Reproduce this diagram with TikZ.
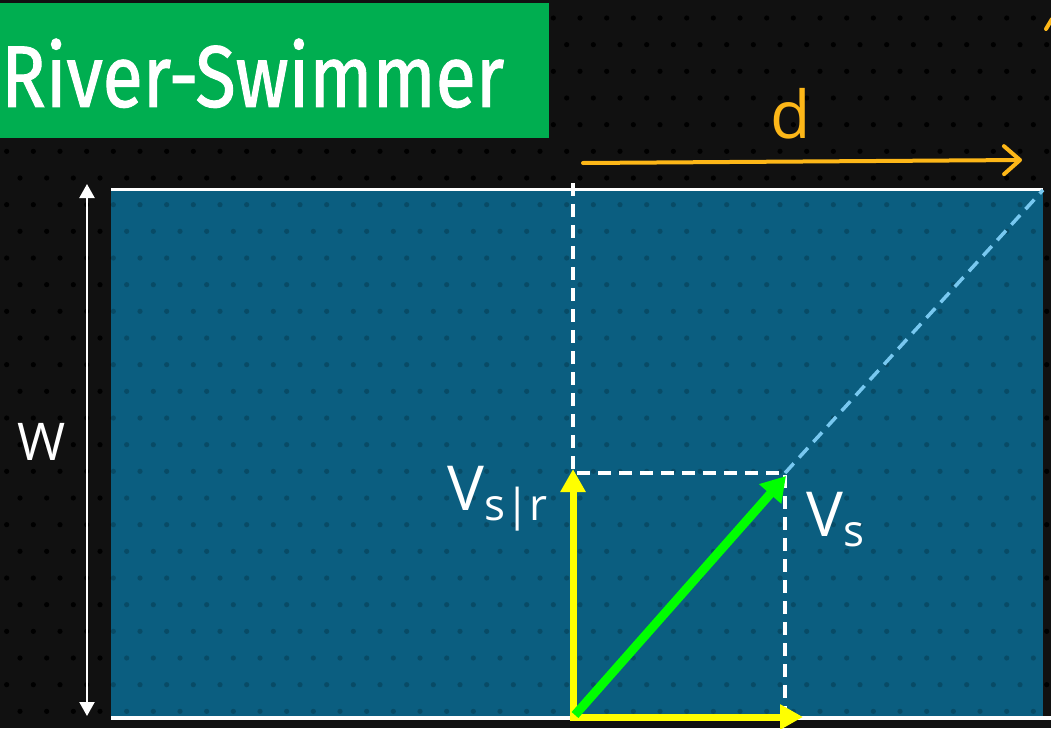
\documentclass[tikz,border=0pt]{standalone}
\usepackage{graphicx}
\usepackage{fontspec}
\setmainfont{Open Sans}
\newfontfamily\titlefont[FakeBold=1.3]{Fira Sans}
\usetikzlibrary{arrows.meta}
\definecolor{bgc}{RGB}{17,17,17}
\definecolor{rivercol}{RGB}{11,94,128}
\definecolor{titlegreen}{RGB}{0,174,80}
\definecolor{vecyellow}{RGB}{255,255,0}
\definecolor{vecgreen}{RGB}{0,255,0}
\definecolor{dorange}{RGB}{253,183,24}
\definecolor{lightblue}{RGB}{120,200,240}
\begin{document}
\begin{tikzpicture}[x=1pt,y=-1pt,
  hand/.style={text=white, inner sep=0},
  dashwhite/.style={draw=white, line width=3.5pt, dash pattern=on 13pt off 8pt},
  yvec/.style={draw=vecyellow, line width=7pt, -{Triangle[width=24pt,length=23pt]}},
  gvec/.style={draw=vecgreen, line width=9pt, -{Triangle[width=28pt,length=24pt]}},
  bank/.style={draw=white, line width=3.5pt},
]
\useasboundingbox (0,0) rectangle (1051,728);
\fill[bgc] (0,0) rectangle (1051,728);
% dot grid
\foreach \j in {0,...,26} {
  \pgfmathsetmacro\yy{18+26.667*\j}
  \pgfmathsetmacro\xo{mod(\j,2)==0 ? 20 : 6.667}
  \foreach \i in {0,...,39} {
    \fill[black] (\xo+26.667*\i,\yy) circle (2.6);
  }
}
% river
\node[fill=rivercol, inner sep=0, minimum width=932pt, minimum height=530pt, anchor=north west] (river) at (111,188) {};
\begin{scope}
\clip (111,188) rectangle (1043,718);
\foreach \j in {0,...,26} {
  \pgfmathsetmacro\yy{18+26.667*\j}
  \pgfmathsetmacro\xo{mod(\j,2)==0 ? 20 : 6.667}
  \foreach \i in {0,...,39} {
    \fill[black, opacity=0.2] (\xo+26.667*\i,\yy) circle (2.6);
  }
}
\end{scope}
% banks
\coordinate (tl) at (111,189.5);
\coordinate (tr) at (1043,189.5);
\coordinate (bl) at (111,718);
\coordinate (br) at (1051,718);
\draw[bank] (tl) -- (tr);
\draw[bank] (bl) -- (br);
% title
\node[fill=titlegreen, inner sep=0, minimum width=549pt, minimum height=135pt, anchor=north west] (titlebox) at (0,3) {};
\node[anchor=south west, inner sep=0, text=white] (title) at (1,108) {\resizebox{503pt}{68pt}{\titlefont River-Swimmer}};
% width arrow
\coordinate (wtop) at (87,184);
\coordinate (wbot) at (87,716);
\draw[white, line width=2.2pt, {Triangle[width=15pt,length=14pt]}-{Triangle[width=15pt,length=14pt]}] (wtop) -- (wbot);
\node[hand, font=\fontsize{52}{52}\selectfont] (W) at (42,442) {W};
% geometry points
\coordinate (O) at (573,717);
\coordinate (dtop) at (573,183);
\coordinate (Q) at (573,473);
\coordinate (P) at (785,473);
\coordinate (Pb) at (785,718);
\coordinate (C) at (1043,190);
% dashed guides
\draw[dashwhite] (dtop) -- (Q) -- (P) -- (Pb);
\draw[draw=lightblue, line width=3.5pt, dash pattern=on 13pt off 8pt] (P) -- (C);
% yellow components
\coordinate (vy) at (573,469);
\coordinate (vx) at (803,717);
\draw[yvec] ([yshift=3pt]O) -- (vy);
\draw[yvec] ([xshift=-3.5pt]O) -- (vx);
% green resultant
\coordinate (g0) at (575,715);
\coordinate (g1) at (786,476);
\draw[gvec] (g0) -- (g1);
% labels
\node[hand, anchor=base east] (vsr) at (548,510) {\fontsize{62}{62}\selectfont V\raisebox{-10pt}{\fontsize{44}{44}\selectfont s|r}};
\node[hand, anchor=base west] (vs) at (806,536) {\fontsize{62}{62}\selectfont V\raisebox{-10pt}{\fontsize{44}{44}\selectfont s}};
% d arrow
\coordinate (d0) at (583,163);
\coordinate (d1) at (1022,160);
\draw[dorange, line width=4pt, line cap=round, -{Straight Barb[length=16pt,width=28pt,round]}] (d0) -- (d1);
\node[hand, text=dorange, font=\fontsize{66}{66}\selectfont] (dlab) at (791,114) {d};
% fragment at top right
\coordinate (f0) at (1046,29);
\coordinate (f1) at (1052,19);
\draw[dorange, line width=4pt, line cap=round] (f0) -- (f1);
\end{tikzpicture}
\end{document}
